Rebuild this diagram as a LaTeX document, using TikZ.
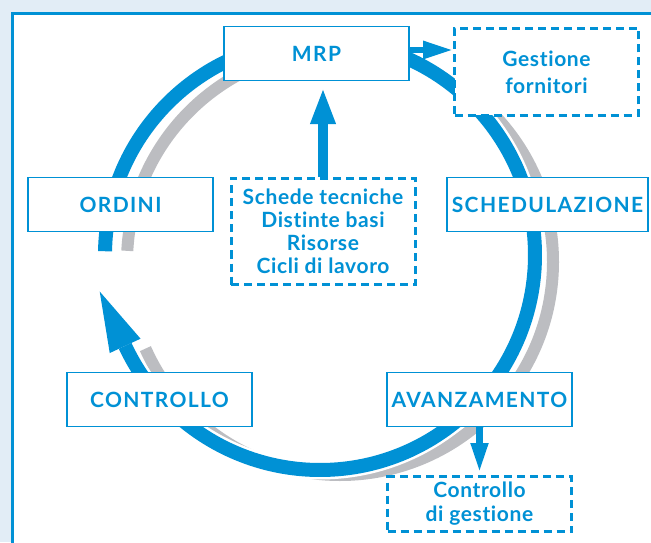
\documentclass[tikz,border=0pt]{standalone}
\usepackage{fontspec}
\setmainfont{Lato}[Ligatures=NoCommon, LetterSpace=3]
\newfontfamily\capsfont{Lato}[Ligatures=NoCommon, LetterSpace=6.5]
\usetikzlibrary{arrows.meta}
\definecolor{mrpblue}{RGB}{0,145,213}
\definecolor{ringgray}{RGB}{188,189,193}
\definecolor{paleback}{RGB}{226,237,246}

\begin{document}
\begin{tikzpicture}[x=1pt,y=1pt]
  \tikzstyle{every node}=[font=\fontsize{21}{23}\selectfont\bfseries, text=mrpblue, align=center]
  \tikzstyle{box}=[draw=mrpblue, fill=white, line width=1.5pt, minimum width=185pt, minimum height=54pt, inner sep=0pt, font=\fontsize{21}{23}\capsfont\bfseries]
  \tikzstyle{dbox}=[draw=mrpblue, fill=white, inner sep=0pt, line width=3pt, minimum width=184pt, dash pattern=on 8pt off 5pt]
  \tikzstyle{arr}=[draw=mrpblue, line width=6pt, -{Triangle[length=30pt,width=17pt]}]
  \useasboundingbox (0,0) rectangle (651,542);
  \fill[paleback] (0,0) rectangle (651,542);
  \draw[mrpblue, line width=3pt, fill=white] (12.5,-10) rectangle (670,528.5);
  % the cycle: grey shadow first, then the blue ring with its head
  \begin{scope}[shift={(340,280)}]
    \draw[ringgray, line width=12pt] (177:213) arc[start angle=177, end angle=-156, radius=213];
  \end{scope}
  \begin{scope}[shift={(320,287)}]
    \draw[white, line width=19pt] (179:215) arc[start angle=179, end angle=-155, radius=215];
    \draw[mrpblue, line width=14pt] (179:215) arc[start angle=179, end angle=-155, radius=215];
    \fill[mrpblue] (205:198) -- (205:232) -- (-220.3,-36.5) -- cycle;
  \end{scope}
  \node[box] (mrp) at (316.5,488.5) {MRP};
  \node[dbox, minimum height=87pt, font=\fontsize{21}{27}\selectfont\bfseries] (gest) at (546.5,470) {Gestione\\fornitori};
  \node[box] (ord) at (120.5,337.5) {ORDINI};
  \node[dbox, minimum height=106pt] (info) at (323,310.5) {Schede tecniche\\Distinte basi\\Risorse\\Cicli di lavoro};
  \node[box, minimum width=201pt] (sched) at (547.5,337.5) {SCHEDULAZIONE};
  \node[box] (contr) at (159.5,142.5) {CONTROLLO};
  \node[box] (avz) at (479.5,142.5) {AVANZAMENTO};
  \node[dbox, minimum height=55pt, font=\fontsize{21}{24}\selectfont\bfseries] (cdg) at (479.5,38) {Controllo\\di gestione};
  % flows out of the cycle
  \draw[arr] ([yshift=3.5pt]mrp.east) -- ([yshift=3.5pt]mrp.east -| gest.west);
  \draw[arr, line width=10pt, -{Triangle[length=37pt,width=23pt]}] (info.north) -- ([yshift=-6pt]info.north |- mrp.south);
  \draw[arr, line width=7pt, -{Triangle[length=30pt,width=16pt]}] (avz.south) -- ([yshift=2pt]cdg.north);
\end{tikzpicture}
\end{document}
